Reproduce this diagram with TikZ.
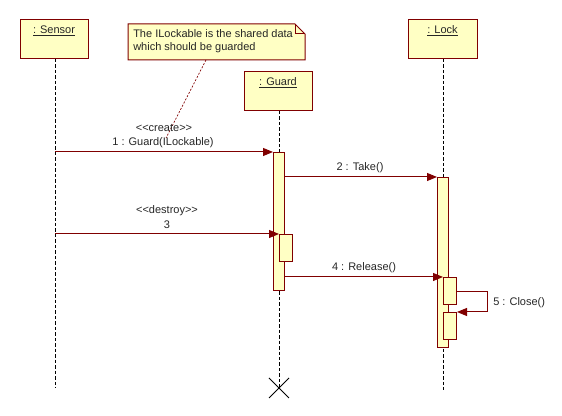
\documentclass[tikz,border=0pt]{standalone}
\usepackage{fontspec}
\setmainfont{Liberation Sans}
\usetikzlibrary{arrows.meta}
\definecolor{boxfill}{HTML}{FFFFC4}
\definecolor{boxline}{HTML}{800000}
\tikzset{
  objbox/.style={draw=boxline, fill=boxfill, line width=0.75pt, inner sep=0pt, minimum width=#1*0.75pt, minimum height=39*0.75pt},
  actbox/.style={draw=boxline, fill=boxfill, line width=0.75pt, inner sep=0pt},
  lifeline/.style={draw=black, line width=0.75pt, dash pattern=on 2.6pt off 1.5pt},
  msg/.style={draw=boxline, line width=0.75pt, -{Triangle[length=7.5pt,width=6pt]}},
  txt/.style={inner sep=0pt, font=\fontsize{8.25}{10}\selectfont, text=black!85},
  notelink/.style={draw=boxline, line width=0.5pt, dash pattern=on 1.5pt off 1.2pt},
}
\begin{document}
\begin{tikzpicture}[x=0.75pt,y=-0.75pt]
\useasboundingbox (0,0) rectangle (562,416);
% lifelines
\coordinate (sTop) at (55,59);
\coordinate (sBot) at (55,388);
\coordinate (gTop) at (279,111);
\coordinate (gBot) at (279,388);
\coordinate (lTop) at (443,59);
\coordinate (lBot) at (443,392);
\draw[lifeline] (sTop) -- (sBot);
\draw[lifeline] (gTop) -- (gBot);
\draw[lifeline] (lTop) -- (lBot);
% object boxes
\node[objbox=68] (sensor) at (54,39.5) {};
\node[txt, anchor=north] (sensorT) at ([yshift=-4.5pt]sensor.north) {\underline{: Sensor}};
\node[objbox=68] (guard) at (278,91.5) {};
\node[txt, anchor=north] (guardT) at ([yshift=-4.5pt]guard.north) {\underline{: Guard}};
\node[objbox=69] (lock) at (442.5,39.5) {};
\node[txt, anchor=north] (lockT) at ([yshift=-4.5pt]lock.north) {\underline{: Lock}};
% note
\draw[draw=boxline, fill=boxfill, line width=0.75pt] (128,24) -- (295,24) -- (305,34) -- (305,60) -- (128,60) -- cycle;
\draw[draw=boxline, line width=0.75pt] (295,24) -- (295,34) -- (305,34);
\node[txt, anchor=north west, align=left] (note) at (133,29) {The ILockable is the shared data\\which should be guarded};
\coordinate (noteA) at (206,60);
\coordinate (noteB) at (166,138);
\draw[notelink] (noteA) -- (noteB);
% activations
\node[actbox, minimum width=11*0.75pt, minimum height=138*0.75pt, anchor=north west] (g1) at (273,152) {};
\node[actbox, minimum width=13*0.75pt, minimum height=27*0.75pt, anchor=north west] (g2) at (279,234) {};
\node[actbox, minimum width=11*0.75pt, minimum height=170*0.75pt, anchor=north west] (l1) at (437,177) {};
\node[actbox, minimum width=13*0.75pt, minimum height=27*0.75pt, anchor=north west] (l2) at (443,277) {};
\node[actbox, minimum width=13*0.75pt, minimum height=27*0.75pt, anchor=north west] (l3) at (443,312) {};
% messages
\coordinate (m1s) at (55,152);
\draw[msg] (m1s) -- (g1.north west);
\node[txt] (m1a) at (164,128) {<{}<create>{}>};
\node[txt] (m1b) at (163,143) {1 : Guard(ILockable)};
\coordinate (m2s) at (284,177);
\draw[msg] (m2s) -- (l1.north west);
\node[txt] (m2a) at (360,168) {2 : Take()};
\coordinate (m3s) at (55,234);
\draw[msg] (m3s) -- (g2.north west);
\node[txt] (m3a) at (167,211) {<{}<destroy>{}>};
\node[txt] (m3b) at (167,225) {3};
\coordinate (m4s) at (284,277);
\draw[msg] (m4s) -- (l2.north west);
\node[txt] (m4a) at (364,268) {4 : Release()};
\coordinate (m5s) at (456,292);
\coordinate (m5r) at (487,292);
\coordinate (m5d) at (487,312);
\draw[msg] (m5s) -- (m5r) -- (m5d) -- (l3.north east);
\node[txt, anchor=west] (m5a) at (493,303) {5 : Close()};
% destruction
\coordinate (x1) at (269,378);
\coordinate (x2) at (289,398);
\coordinate (x3) at (289,378);
\coordinate (x4) at (269,398);
\draw[line width=0.75pt] (x1) -- (x2) (x3) -- (x4);
\end{tikzpicture}
\end{document}
